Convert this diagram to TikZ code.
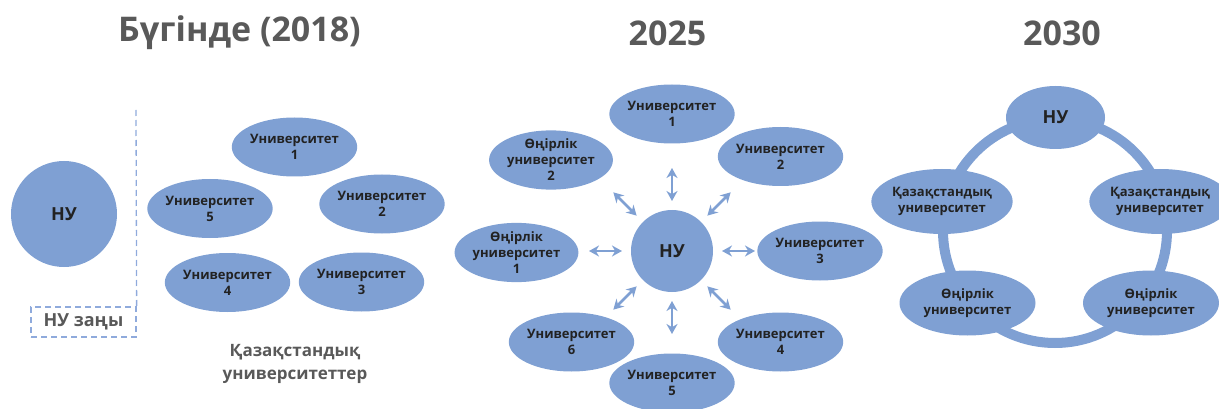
\documentclass[tikz,border=0pt]{standalone}
\usepackage{fontspec}
\setmainfont{Open Sans}
\usetikzlibrary{shapes.geometric,arrows.meta,calc}
\definecolor{nublue}{RGB}{127,160,211}
\definecolor{dashblue}{RGB}{143,170,220}
\definecolor{titlegray}{RGB}{89,89,89}
\definecolor{txt}{RGB}{34,34,34}
\tikzset{
  blob/.style={ellipse, fill=nublue, draw=none, inner sep=0pt,
    minimum width=118pt, minimum height=59pt, align=center, text=txt,
    font=\bfseries\fontsize{13}{16}\selectfont},
  bigblob/.style={blob, minimum width=136pt, minimum height=65pt},
  nucirc/.style={circle, fill=nublue, draw=none, inner sep=0pt, text=txt,
    font=\bfseries\fontsize{18}{22}\selectfont},
  title/.style={font=\bfseries\fontsize{34}{40}\selectfont, text=titlegray},
  graylabel/.style={font=\bfseries\fontsize{17}{23}\selectfont, text=titlegray, align=center},
  dashln/.style={draw=dashblue, line width=1.3pt, dash pattern=on 6pt off 4pt},
  arr/.style={<->, >={Stealth[length=10pt,width=11pt]}, line width=2.5pt, draw=nublue},
}
\begin{document}
\begin{tikzpicture}[x=1pt,y=-1pt]
\useasboundingbox (0,0) rectangle (1219,409);
% titles
\node[title] (t1) at (239.5,33) {Бүгінде (2018)};
\node[title] (t2) at (667.5,33) {2025};
\node[title] (t3) at (1062,33) {2030};
% left section
\node[nucirc, minimum size=106pt] (nuL) at (64,214) {НУ};
\node[draw=dashblue, line width=1.3pt, dash pattern=on 6pt off 4pt, minimum width=105pt, minimum height=30pt, inner sep=0pt,
  font=\bfseries\fontsize{18}{22}\selectfont, text=titlegray] (law) at (83.5,322) {НУ заңы};
\coordinate (dtop) at (136,110);
\draw[dashln] (dtop) -- (law.north east);
\node[blob] (l1) at (294.5,147) {Университет\\1};
\node[blob] (l2) at (382,204) {Университет\\2};
\node[blob] (l3) at (361.5,282) {Университет\\3};
\node[blob] (l4) at (227.5,282.5) {Университет\\4};
\node[blob] (l5) at (210,208.5) {Университет\\5};
\node[graylabel] (kz) at (295,364) {Қазақстандық\\университеттер};
% middle section
\node[nucirc, minimum size=82pt] (nuM) at (672,251) {НУ};
\node[blob] (m1) at (672,114) {Университет\\1};
\node[blob] (m2) at (780.5,156.5) {Университет\\2};
\node[blob] (m3) at (820,251) {Университет\\3};
\node[blob] (m4) at (780.5,342) {Университет\\4};
\node[blob] (m5) at (672,383) {Университет\\5};
\node[blob] (m6) at (571.5,342) {Университет\\6};
\node[blob] (r1) at (516.5,252.5) {Өңірлік\\университет\\1};
\node[blob] (r2) at (551,160) {Өңірлік\\университет\\2};
\foreach \a in {0,45,90,135,180,225,270,315}{
  \draw[arr] ($(nuM.center)+(\a:50)$) -- ($(nuM.center)+(\a:83)$);
}
% right section
\coordinate (ringc) at (1055,231);
\draw[nublue, line width=10pt] (ringc) circle[radius=112pt];
\node[nucirc, ellipse, minimum width=99pt, minimum height=63pt] (nuR) at (1055.5,117.5) {НУ};
\node[bigblob] (kL) at (942,201.5) {Қазақстандық\\университет};
\node[bigblob] (kR) at (1160,201.5) {Қазақстандық\\университет};
\node[bigblob] (rL) at (967.5,303) {Өңірлік\\университет};
\node[bigblob] (rR) at (1151,303) {Өңірлік\\университет};
\end{tikzpicture}
\end{document}
